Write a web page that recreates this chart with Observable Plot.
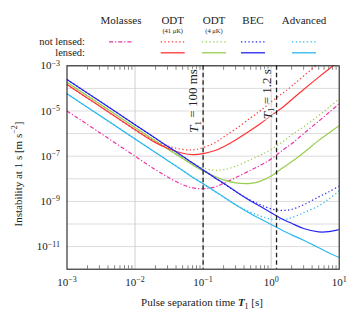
<!DOCTYPE html>
<html><head><meta charset="utf-8">
<script src="https://cdn.jsdelivr.net/npm/d3@7"></script>
<script src="https://cdn.jsdelivr.net/npm/@observablehq/plot@0.6"></script>
<style>
body{margin:0;background:#fff;font-family:'Liberation Serif',serif;color:#222;}
#wrap{position:relative;width:359px;height:319px;overflow:hidden;}
#legend{position:absolute;left:0;top:0;}
#chart{position:absolute;left:0;top:60px;}
.lab{position:absolute;font-size:11px;white-space:nowrap;}
</style></head><body>
<div id="wrap"><div id="legend"></div><div id="chart"></div>
<div class="lab" id="xlab" style="left:202px;top:296px;transform:translateX(-50%);">Pulse separation time <b><i>T</i></b><sub style="font-size:8px">1</sub> [s]</div>
<div class="lab" id="ylab" style="left:17px;top:174px;transform:translate(-50%,-50%) rotate(-90deg);">Instability at 1 s [m s<sup style="font-size:8px">−2</sup>]</div>
</div>
<script>
// pulse separation times T1 [s]
const T = [0.001, 0.003, 0.01, 0.02, 0.03, 0.05, 0.07, 0.1, 0.15, 0.2, 0.3, 0.5, 0.7, 1, 1.5, 2, 3, 5, 7, 10];
// log10 of instability at 1 s [m s^-2]
const molassesNL = [-5.0, -5.95, -7.0, -7.6, -7.92, -8.26, -8.4, -8.44, -8.36, -8.2, -7.95, -7.62, -7.4, -7.12, -6.72, -6.45, -6.0, -5.45, -5.08, -4.68];
const odt41NL   = [-3.83, -4.78, -5.83, -6.35, -6.55, -6.7, -6.72, -6.62, -6.4, -6.15, -5.8, -5.3, -4.98, -4.6, -4.2, -3.9, -3.45, -2.9, -2.55, -2.2];
const odt41L    = [-3.83, -4.78, -5.83, -6.4, -6.65, -6.87, -6.93, -6.89, -6.75, -6.58, -6.28, -5.85, -5.55, -5.2, -4.82, -4.5, -4.05, -3.5, -3.15, -2.8];
const odt4NL    = [-3.73, -4.68, -5.73, -6.32, -6.65, -7.05, -7.3, -7.52, -7.62, -7.6, -7.45, -7.15, -6.95, -6.7, -6.35, -6.05, -5.7, -5.2, -4.85, -4.46];
const odt4L     = [-3.73, -4.68, -5.73, -6.33, -6.68, -7.1, -7.38, -7.65, -7.9, -8.05, -8.18, -8.2, -8.1, -7.88, -7.5, -7.25, -6.85, -6.3, -5.98, -5.65];
const becNL     = [-3.61, -4.56, -5.61, -6.21, -6.56, -7.0, -7.3, -7.61, -7.96, -8.2, -8.56, -8.95, -9.15, -9.33, -9.4, -9.35, -9.15, -8.8, -8.58, -8.32];
const becL      = [-3.61, -4.56, -5.61, -6.21, -6.56, -7.0, -7.3, -7.61, -7.96, -8.2, -8.55, -8.98, -9.23, -9.5, -9.8, -9.97, -10.2, -10.35, -10.34, -10.25];
const advNL     = [-4.24, -5.19, -6.24, -6.84, -7.19, -7.63, -7.93, -8.22, -8.56, -8.8, -9.14, -9.48, -9.65, -9.78, -9.8, -9.72, -9.5, -9.2, -8.9, -8.53];
const advL      = [-4.24, -5.19, -6.24, -6.84, -7.19, -7.63, -7.93, -8.22, -8.56, -8.8, -9.15, -9.55, -9.78, -10.02, -10.3, -10.48, -10.72, -11.05, -11.27, -11.48];

const columnNames = ["Molasses", "ODT", "ODT", "BEC", "Advanced"];
const columnSubs = ["", "(41 μK)", "(4 μK)", "", ""];
const rowNames = ["not lensed:", "lensed:"];
const xTicks = [1e-3, 1e-2, 1e-1, 1, 10];
const yTicks = [1e-3, 1e-5, 1e-7, 1e-9, 1e-11];
const yGrid = [1e-3, 1e-4, 1e-5, 1e-6, 1e-7, 1e-8, 1e-9, 1e-10, 1e-11];
const xGrid = [1e-2, 1e-1, 1];
const markerT = [0.1, 1.2];
const markerText = ["T1 = 100 ms", "T1 = 1.2 s"];

const colors = {mol: "#ee33a8", odt41: "#ff3333", odt4: "#9acd4c", bec: "#2525ee", adv: "#2cb8f0"};
const DOT = "1.3,2.4", DASHDOT = "4,2,1.2,2";
const FONT = "'Liberation Serif', serif";

const series = [
  {exps: odt41NL, color: colors.odt41, dash: DOT},
  {exps: odt4NL, color: colors.odt4, dash: DOT},
  {exps: molassesNL, color: colors.mol, dash: DASHDOT},
  {exps: odt4L, color: colors.odt4, dash: null},
  {exps: odt41L, color: colors.odt41, dash: null},
  {exps: advNL, color: colors.adv, dash: DOT},
  {exps: becNL, color: colors.bec, dash: DOT},
  {exps: advL, color: colors.adv, dash: null},
  {exps: becL, color: colors.bec, dash: null},
];

const minor = [];
for (let d = -3; d < 1; d++) for (let k = 2; k <= 9; k++) minor.push(k * 10 ** d);

const sup = d => "10^" + String(Math.round(Math.log10(d))).replace("-", "−");

const lineMarks = series.map(s => Plot.line(T.map((t, i) => ({t, v: 10 ** s.exps[i]})), {
  x: "t", y: "v", stroke: s.color, strokeWidth: 1.2, strokeDasharray: s.dash,
  strokeLinecap: s.dash ? "butt" : "round", curve: "catmull-rom", clip: true
}));

const chart = Plot.plot({
  width: 359, height: 259,
  marginLeft: 66.5, marginRight: 20.3, marginTop: 5.3, marginBottom: 50.3,
  style: {fontFamily: FONT, fontSize: "11px", color: "#222", background: "#fff"},
  x: {type: "log", domain: [1e-3, 10]},
  y: {type: "log", domain: [1e-12, 1e-3]},
  marks: [
    Plot.ruleY(yGrid, {stroke: "#dcdcdc", strokeWidth: 1}),
    Plot.ruleX(xGrid, {stroke: "#cfcfcf", strokeWidth: 1}),
    Plot.axisX({ticks: xTicks, tickFormat: sup, tickSize: 0, tickPadding: 9, label: null}),
    Plot.axisX({ticks: minor, tickFormat: () => "", tickSize: -3.5, label: null, stroke: "#888"}),
    Plot.axisX({anchor: "top", ticks: minor, tickFormat: () => "", tickSize: -3.5, label: null, stroke: "#888"}),
    Plot.axisY({ticks: yTicks, tickFormat: sup, tickSize: 0, tickPadding: 7, label: null}),
    ...lineMarks,
    Plot.ruleX(markerT, {stroke: "#222", strokeWidth: 1.3, strokeDasharray: "4.5,3"}),
    Plot.text(markerT.map((t, i) => ({t, label: markerText[i]})), {
      x: "t", y: () => 10 ** -3.15, text: "label", rotate: -90, textAnchor: "end",
      dx: -9, fontSize: 13, fill: "#222", stroke: "white", strokeOpacity: 0.6, strokeWidth: 3
    }),
    Plot.frame({stroke: "#222", strokeWidth: 1.1})
  ]
});

// superscripts in tick labels and subscript in marker labels
d3.select(chart).selectAll("text").each(function() {
  const el = d3.select(this);
  const s = el.text();
  let m = s.match(/^10\^(.+)$/);
  if (m) {
    el.text("");
    el.append("tspan").text("10");
    el.append("tspan").attr("dy", "-0.45em").attr("font-size", "8px").text(m[1]);
    return;
  }
  m = s.match(/^T1 = (.+)$/);
  if (m) {
    el.text("");
    el.append("tspan").attr("font-style", "italic").text("T");
    el.append("tspan").attr("dy", "0.3em").attr("font-size", "9px").text("1");
    el.append("tspan").attr("dy", "-0.3em").text(" = " + m[1]);
  }
});
document.getElementById("chart").append(chart);

// legend
const colX = [121, 172.7, 214, 253, 304];
const rowY = [41.8, 52.8];
const legendColors = [colors.mol, colors.odt41, colors.odt4, colors.bec, colors.adv];
const lg = d3.select("#legend").append("svg").attr("width", 359).attr("height", 60)
  .style("font-family", FONT).style("fill", "#222");
columnNames.forEach((n, i) => {
  lg.append("text").attr("x", colX[i]).attr("y", 24).attr("text-anchor", "middle").attr("font-size", 11).text(n);
  if (columnSubs[i]) lg.append("text").attr("x", colX[i]).attr("y", 33).attr("text-anchor", "middle").attr("font-size", 6.5).text(columnSubs[i]);
});
rowNames.forEach((n, j) => {
  lg.append("text").attr("x", 85).attr("y", rowY[j] + 3.3).attr("text-anchor", "end").attr("font-size", 10.5).text(n);
});
legendColors.forEach((c, i) => {
  lg.append("line").attr("x1", colX[i] - 12).attr("x2", colX[i] + 12).attr("y1", rowY[0]).attr("y2", rowY[0])
    .attr("stroke", c).attr("stroke-width", 1.2).attr("stroke-dasharray", i === 0 ? DASHDOT : DOT);
  if (i > 0) lg.append("line").attr("x1", colX[i] - 12).attr("x2", colX[i] + 12).attr("y1", rowY[1]).attr("y2", rowY[1])
    .attr("stroke", c).attr("stroke-width", 1.3);
});
</script>
</body></html>
